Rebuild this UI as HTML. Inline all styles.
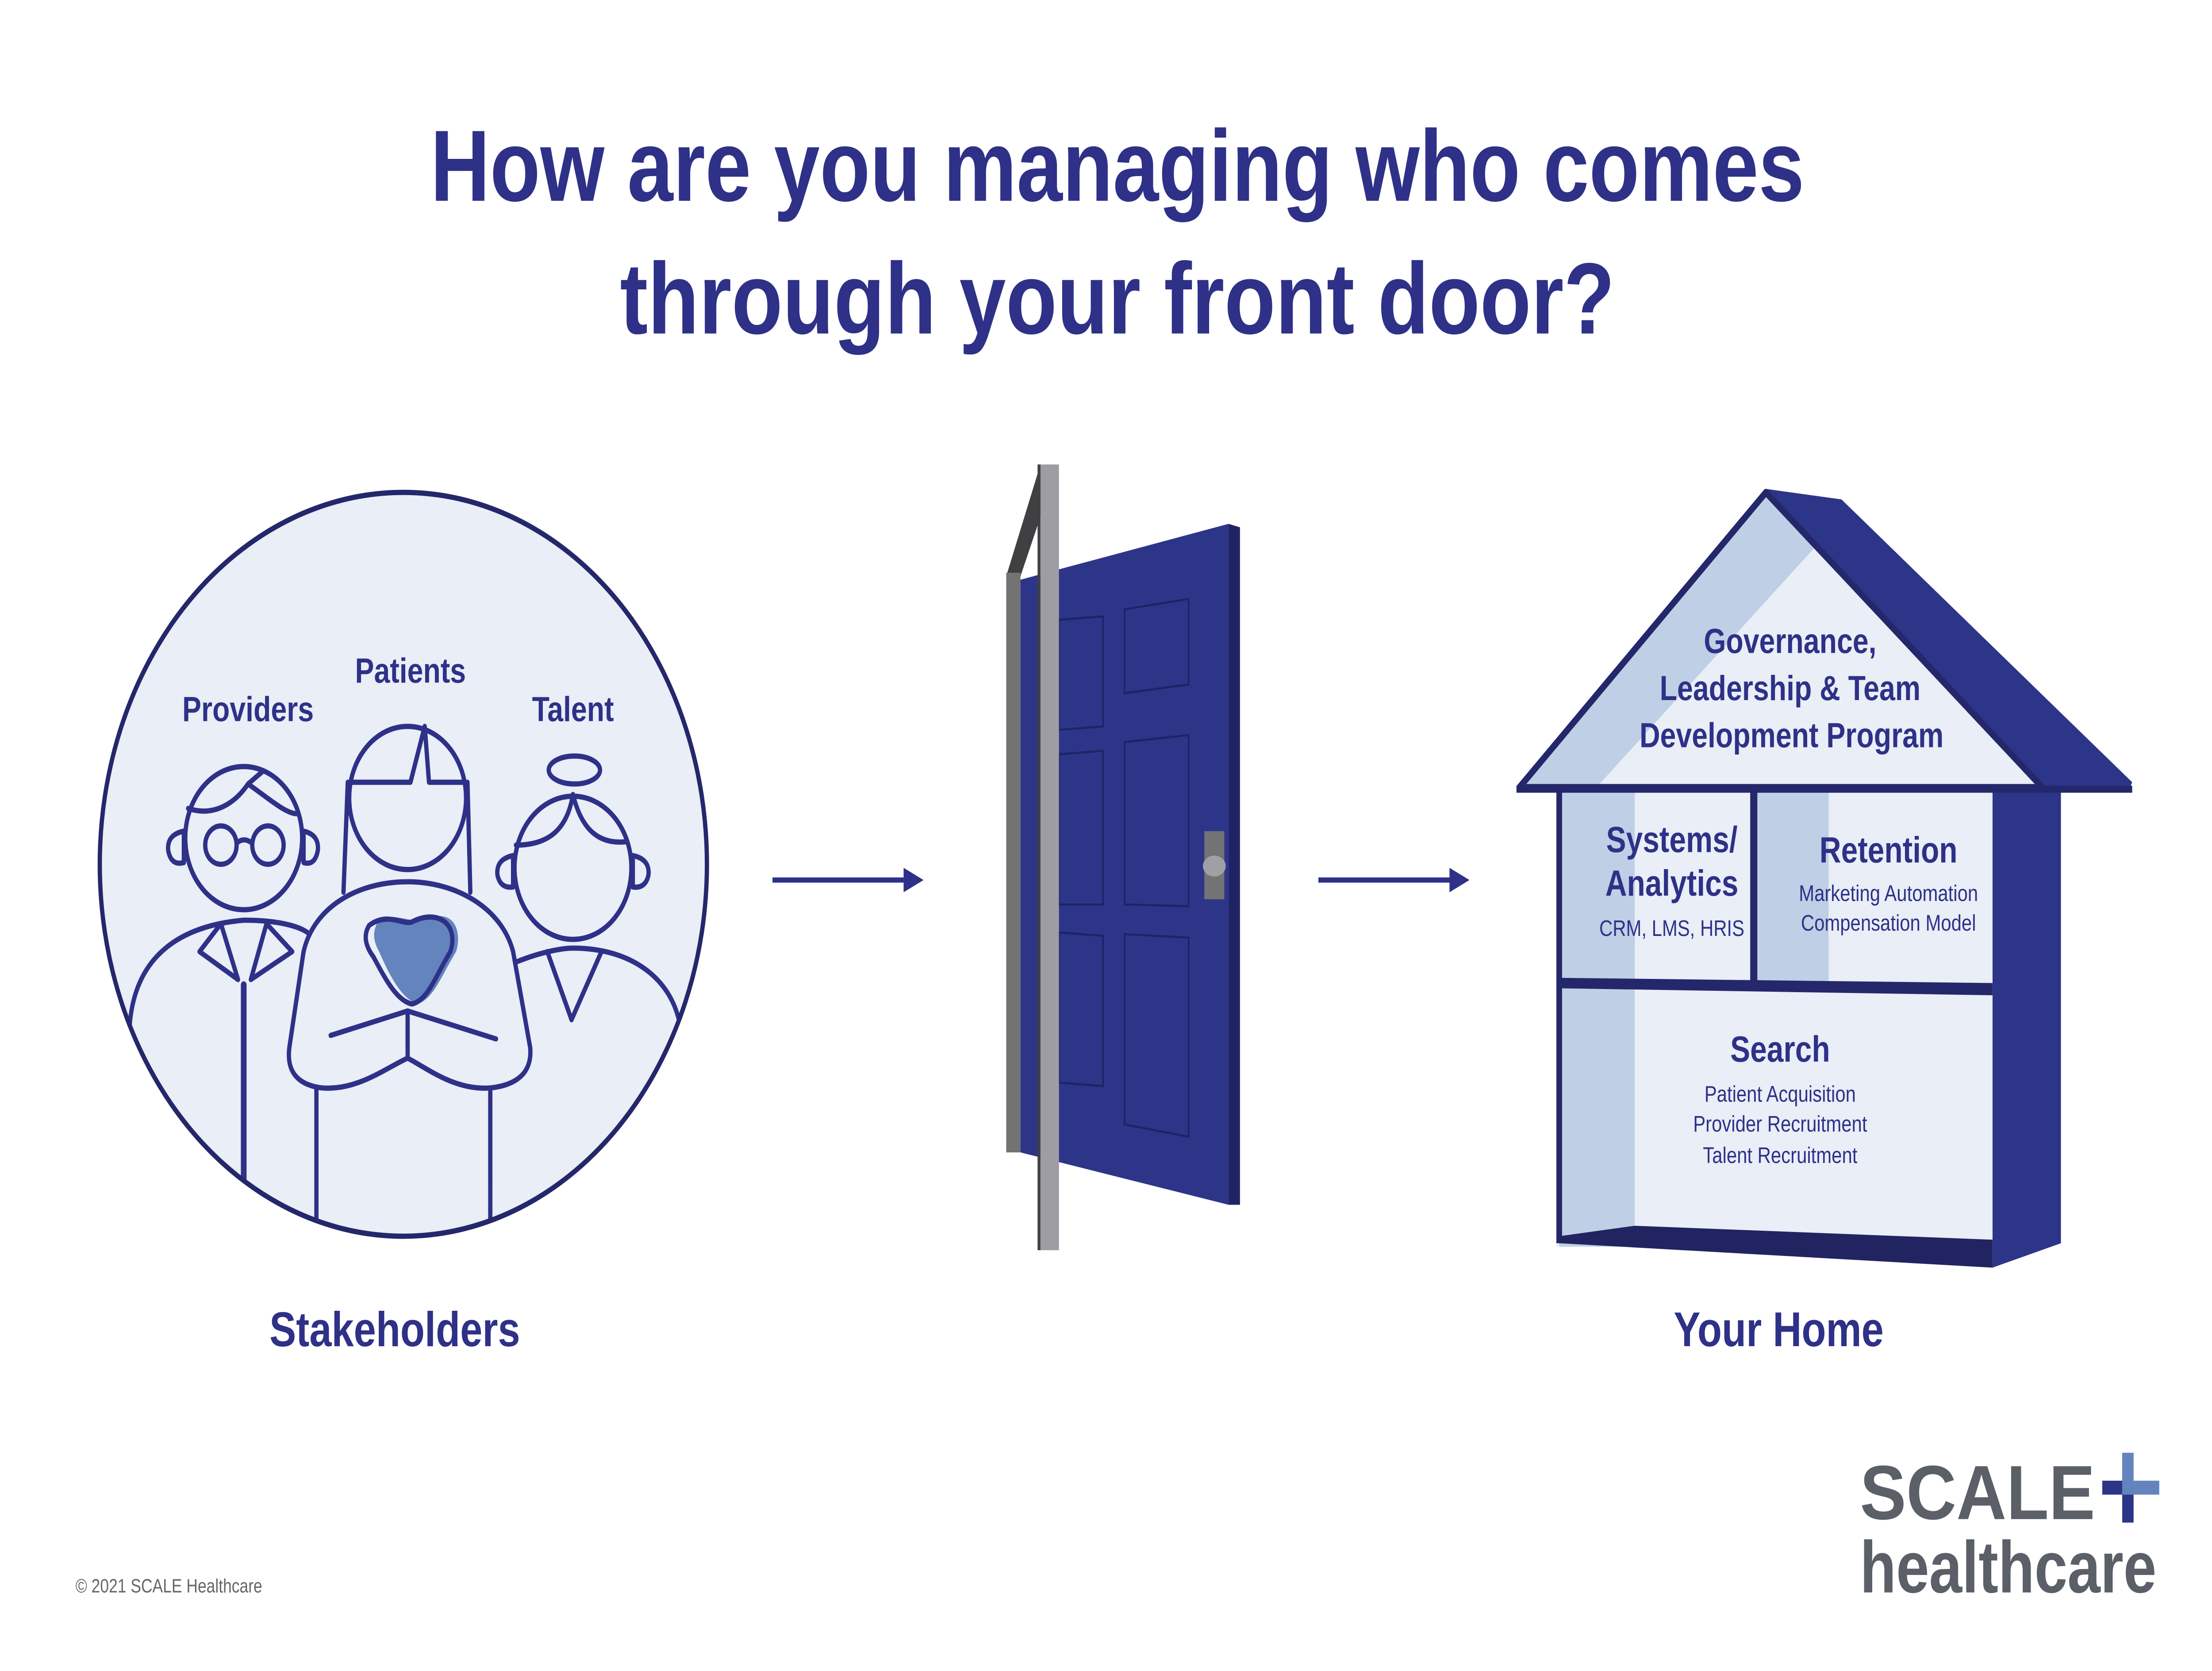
<!DOCTYPE html>
<html><head><meta charset="utf-8"><style>
html,body{margin:0;padding:0;background:#fff;width:100%;height:100%;overflow:hidden;}
svg{display:block;width:100vw;height:100vh;}
text{font-family:"Liberation Sans",sans-serif;}
</style></head><body>
<svg viewBox="0 0 1552 957" preserveAspectRatio="none" xmlns="http://www.w3.org/2000/svg">
<rect width="1552" height="957" fill="#fff"/>
<g fill="#2e3187" font-weight="bold" font-size="58">
<text x="302" y="115" textLength="964" lengthAdjust="spacingAndGlyphs">How are you managing who comes</text>
<text x="435" y="191" textLength="698" lengthAdjust="spacingAndGlyphs">through your front door?</text>
</g>

<defs><clipPath id="cc"><circle cx="283" cy="495" r="213"/></clipPath></defs>
<circle cx="283" cy="495" r="213" fill="#e9eef7"/>
<g clip-path="url(#cc)" fill="none" stroke="#2e3187" stroke-width="3" stroke-linejoin="round" stroke-linecap="round">
  <path d="M91,587 C95,545 130,530 171,527 C200,527 215,532 218,536"/>
  <line x1="171" y1="564" x2="171" y2="720" stroke-width="4"/>
  <path d="M155,529 L140,545 L167,561 Z M187,529 L205,545 L176,561 Z"/>
  <circle cx="171" cy="480" r="41" fill="#e9eef7"/>
  <path d="M132,463 C150,468 165,460 174,449 L184,442 M174,449 C185,455 200,466 208,466"/>
  <circle cx="155" cy="484" r="11"/><circle cx="188" cy="484" r="11"/>
  <path d="M166,483 Q171,479 177,483"/>
  <path d="M129,476 Q117,478 118,487 Q120,496 129,494 Z"/>
  <path d="M213,476 Q224,478 223,487 Q221,496 213,494 Z"/>
  <path d="M362,551 C380,545 395,543 402,543 C440,543 468,558 476,583"/>
  <path d="M384,545 L401,584 L422,545"/>
  <circle cx="402" cy="497" r="41" fill="#e9eef7"/>
  <ellipse cx="403" cy="441" rx="18" ry="8"/>
  <path d="M362,484 C385,484 398,475 402,455 C408,475 420,484 440,482"/>
  <path d="M360,490 Q348,492 349,501 Q351,509 360,508 Z"/>
  <path d="M444,490 Q456,492 455,501 Q453,509 444,508 Z"/>
  <path d="M241,511 L244,448 M330,511 L328,448"/>
  <circle cx="286" cy="457" r="41" fill="#e9eef7"/>
  <path d="M246,448 L288,448 L298,416 L301,448 L326,448"/>
  <path d="M222,623 L222,720 M344,623 L344,720"/>
  <path d="M286,505 C250,505 220,520 213,545 L203,600 Q200,620 225,623 C250,625 270,612 286,606 C300,612 320,625 345,623 Q374,620 372,600 L360,545 C352,520 320,505 286,505 Z" fill="#e9eef7"/>
  <path d="M262,527 C275,522 285,530 296,526 C316,520 320,535 316,545 C305,560 300,572 289,575 C278,572 270,560 262,545 Q255,535 262,527 Z" fill="#6384bd" stroke="none" transform="translate(4,0)"/>
  <path d="M259,530 C272,522 283,530 289,528 C308,520 322,530 316,545 C305,560 300,573 289,575 C278,573 270,560 262,548 Q253,538 259,530 Z"/>
  <path d="M232,593 L286,579 L348,595 M286,579 L286,606"/>
</g>
<circle cx="283" cy="495" r="213" fill="none" stroke="#24276a" stroke-width="3"/>
<g fill="#2e3187" font-weight="bold" text-anchor="middle">
<text x="174" y="413" font-size="20">Providers</text>
<text x="288" y="391" font-size="20">Patients</text>
<text x="402" y="413" font-size="20">Talent</text>
<text x="277" y="771" font-size="28">Stakeholders</text>
<text x="1248" y="771" font-size="28">Your Home</text>
</g>

<g stroke="#2e3187" stroke-width="3"><line x1="542" y1="504" x2="636" y2="504"/><line x1="925" y1="504" x2="1019" y2="504"/></g>
<polygon points="648,504 634,497 634,511" fill="#2e3187"/>
<polygon points="1031,504 1017,497 1017,511" fill="#2e3187"/>

<polygon points="706,330 730,266 735,268 735,284 716,330" fill="#404043"/>
<rect x="706" y="328" width="10" height="332" fill="#737373"/>
<polygon points="716,332 862,300 862,690 716,660" fill="#2d3589"/>
<polygon points="862,300 870,302 870,690 862,690" fill="#1f2366"/>
<g fill="none" stroke="#1f2366" stroke-width="1.2">
<polygon points="743,355 774,353 774,416 743,418"/>
<polygon points="789,349 834,343 834,392 789,397"/>
<polygon points="743,432 774,430 774,518 743,518"/>
<polygon points="789,425 834,421 834,519 789,518"/>
<polygon points="743,534 774,536 774,622 743,620"/>
<polygon points="789,535 834,537 834,651 789,644"/>
</g>
<rect x="845" y="476" width="14" height="39" fill="#737373"/>
<ellipse cx="852" cy="496" rx="8" ry="6" fill="#a09fa5"/>
<rect x="730" y="266" width="13" height="450" fill="#9e9da3"/>
<rect x="728" y="266" width="2" height="450" fill="#404043"/>

<polygon points="1239,280 1292,286 1496,448 1494,452 1446,452 1446,712 1398,726 1398,452" fill="#2d3589"/>
<polygon points="1066,451 1239,282 1433,451" fill="#e9eef7"/>
<polygon points="1066,451 1239,282 1275,312 1120,451" fill="#bfcfe5"/>
<polygon points="1066,451 1239,282 1433,451" fill="none" stroke="#24276a" stroke-width="4" stroke-linejoin="round"/>
<rect x="1092" y="452" width="306" height="262" fill="#e9eef7"/>
<rect x="1094" y="452" width="53" height="262" fill="#bfcfe5"/>
<rect x="1233" y="452" width="50" height="112" fill="#bfcfe5"/>
<line x1="1064" y1="452" x2="1496" y2="452" stroke="#24276a" stroke-width="4"/>
<polygon points="1092,452 1096,452 1096,712 1092,712" fill="#24276a"/>
<polygon points="1228,452 1233,452 1233,564 1228,564" fill="#24276a"/>
<polygon points="1094,560 1398,563 1398,570 1094,566" fill="#24276a"/>
<polygon points="1094,708 1147,702 1398,710 1398,726 1094,712" fill="#212461"/>
<g fill="#2e3187" text-anchor="middle">
<g font-weight="bold" font-size="20">
<text x="1256" y="374">Governance,</text>
<text x="1256" y="401">Leadership &amp; Team</text>
<text x="1257" y="428">Development Program</text>
</g>
<g font-weight="bold" font-size="21">
<text x="1173" y="488">Systems/</text>
<text x="1173" y="513">Analytics</text>
<text x="1325" y="494">Retention</text>
<text x="1249" y="608">Search</text>
</g>
<g font-size="13">
<text x="1173" y="536">CRM, LMS, HRIS</text>
<text x="1325" y="516">Marketing Automation</text>
<text x="1325" y="533">Compensation Model</text>
<text x="1249" y="631">Patient Acquisition</text>
<text x="1249" y="648">Provider Recruitment</text>
<text x="1249" y="666">Talent Recruitment</text>
</g>
</g>

<text x="53" y="912" font-size="11" fill="#666">© 2021 SCALE Healthcare</text>
<text x="1305" y="870" font-size="44" font-weight="bold" fill="#5a5f68" textLength="165" lengthAdjust="spacingAndGlyphs">SCALE</text>
<rect x="1475" y="848" width="16" height="8" fill="#2d3589"/>
<rect x="1489" y="856" width="8" height="16" fill="#2d3589"/>
<rect x="1489" y="832" width="8" height="24" fill="#6384bd"/>
<rect x="1489" y="848" width="26" height="8" fill="#6384bd"/>
<text x="1305" y="912" font-size="42" fill="#5a5f68" font-weight="bold" textLength="208" lengthAdjust="spacingAndGlyphs">healthcare</text>
</svg>
</body></html>
